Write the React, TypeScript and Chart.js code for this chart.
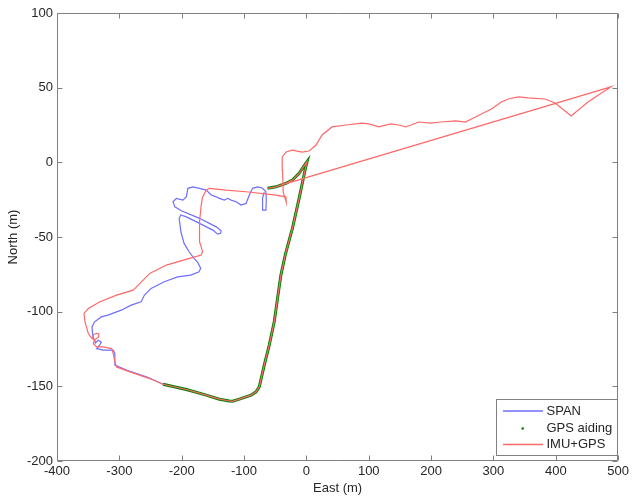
import React, { useEffect, useRef } from "react";
import { Chart, registerables } from "chart.js";

Chart.register(...registerables);

const xTicks = [-400, -300, -200, -100, 0, 100, 200, 300, 400, 500];
const yTicks = [-200, -150, -100, -50, 0, 50, 100];
const xTitle = "East (m)";
const yTitle = "North (m)";
const legendLabels = ["SPAN", "GPS aiding", "IMU+GPS"];

// GPS aiding (green dots)
const gpsEast = [
  -62.3, -48.9, -32.9, -22.4, -11.7, -1, 1.1, -1, -11.7, -22.4, -27.6, -34, -40.9, -46.3, -51.6, -59.6,
  -67.6, -75.6, -80.8, -88.8, -107.5, -118.2, -123.5, -139.5, -160.7, -192.6, -230,
];
const gpsNorth = [
  -17.4, -16.4, -14.1, -11.9, -7.4, -0.7, 0.5, -3, -24.1, -44.2, -52.1, -62.1, -75.5, -91.1, -106.8, -122.4,
  -135.8, -150.4, -153.7, -155.9, -158.6, -160, -159.8, -158.6, -155.9, -152.1, -148.6,
];

// SPAN reference (blue)
const spanEast = [
  -62.3, -48.9, -32.9, -22.4, -11.7, -1, 1.1, -1, -11.7, -22.4, -27.6, -34, -40.9, -46.3, -51.6, -59.6,
  -67.6, -75.6, -80.8, -88.8, -107.5, -118.2, -123.5, -139.5, -160.7, -192.6, -230,
  -255.6, -287.6, -307.2, -307.2, -309.9, -325.9, -336.4, -331.7, -329, -333.8, -338.6, -339.7, -342.3,
  -343.9, -339.7, -329, -318.3, -297, -281.1, -265.1, -259.8, -249.1, -228, -206.6, -185.4, -172.2,
  -169.5, -174.8, -180.2, -188.2, -196.2, -201.3, -204.1, -201.3, -192.6, -171.4, -150.2, -142.2, -137.5,
  -136.8, -144.7, -171.4, -200.6, -211, -214, -208.6, -198.1, -192.6, -190.1, -182.1, -171.4, -160.7,
  -152.7, -144.7, -139.5, -131.5, -126.2, -120.8, -112.8, -104.8, -96.8, -91.5, -86.3, -78.3, -70.8,
  -64.9, -64.4, -64.9, -70.3, -70.3, -67.6,
];
const spanNorth = [
  -17.4, -16.4, -14.1, -11.9, -7.4, -0.7, 0.5, -3, -24.1, -44.2, -52.1, -62.1, -75.5, -91.1, -106.8, -122.4,
  -135.8, -150.4, -153.7, -155.9, -158.6, -160, -159.8, -158.6, -155.9, -152.1, -148.6,
  -143.8, -139.2, -135.8, -128, -125.8, -125.8, -124.7, -122.5, -120.4, -119.1, -121.1, -119.1, -116.9,
  -110.2, -106.8, -103.5, -102.3, -99, -95.6, -93.4, -88.9, -84.4, -80, -76.7, -75.5, -73.3,
  -71, -66.6, -64.3, -59.9, -54.3, -46.5, -37.5, -35.3, -36.5, -40.9, -45.4, -48.1, -47.5,
  -45.8, -43.2, -37.5, -32.4, -29.8, -26.4, -24.1, -25.3, -23.1, -17.4, -16.4, -17.4, -18.6,
  -21.9, -23.1, -24.1, -25.3, -24.1, -25.3, -26.4, -28.6, -27.5, -21.9, -17.4, -16.4, -17.2,
  -19.7, -25.3, -32, -32, -23.9, -19.9,
];

// IMU+GPS solution (red)
const imuEast = [
  -62.3, -48.9, -32.9, -22.4, -11.7, -1, 1.1, -1, -11.7, -22.4, -27.6, -34, -40.9, -46.3, -51.6, -59.6,
  -67.6, -75.6, -80.8, -88.8, -107.5, -118.2, -123.5, -139.5, -160.7, -192.6, -230,
  -251.2, -283.2, -304.5, -307.2, -309.9, -312.4, -325.9, -336.4, -341.8, -340, -333, -333, -337, -341.5,
  -342.5, -340, -345, -349.8, -355.1, -356.7, -349.8, -331.1, -304.5, -277.9, -272.5, -251.3, -224.6,
  -187.4, -168.7, -166.6, -168.7, -171.4, -171.4, -168.7, -166.6, -160.7, -155.4, -128.8, -96.8, -48.9,
  -32.9, -32.4, -37.2, -38.3, -38.8, -32.4, -22.8, -6.9, 4.3, 15.5, 25.1, 41.1, 63.4, 89, 100.2, 116.1,
  135.3, 148.1, 159.3, 172.1, 180, 199.2, 215.2, 239.1, 255.1, 264.7, 280.7, 296.7, 312.6, 323.8, 339.8,
  355.8, 382.9, 398.9, 424.5, 451.6, 475.6, 488.4, -35.3,
];
const imuNorth = [
  -17.4, -16.4, -14.1, -11.9, -7.4, -0.7, 0.5, -3, -24.1, -44.2, -52.1, -62.1, -75.5, -91.1, -106.8, -122.4,
  -135.8, -150.4, -153.7, -155.9, -158.6, -160, -159.8, -158.6, -155.9, -152.1, -148.6,
  -144.8, -140.3, -137, -133.6, -128, -124.7, -123.6, -123.6, -121.3, -119, -117, -115, -114.5, -115.5,
  -117.5, -119, -117.5, -114.6, -106.8, -101.2, -97.9, -93.4, -88.9, -85.6, -83.4, -74.4, -68.8,
  -64.3, -62.1, -59.9, -56.6, -53.2, -39.8, -28.6, -23.3, -18.6, -17.4, -18.6, -19.7, -21.9,
  -23.1, -26.6, -19.9, -5.2, 3.6, 6.9, 8.2, 6.9, 7.6, 11.6, 18.3, 23.7, 25, 26.3, 25.7, 23.7,
  25.7, 25, 23.7, 25.7, 27, 26.3, 27, 27.7, 27, 29, 32.4, 35.7, 40.4, 42.4, 43.8,
  43.1, 42.4, 39.7, 31, 40.4, 47.1, 50.5, -14.6,
];

const FONT = "'Liberation Sans', Arial, Helvetica, sans-serif";
const TEXT = "#262626";
const AXIS = "#808080";
const BLUE = "rgb(110,110,255)";
const GREEN = "rgb(0,128,0)";
const RED = "rgb(255,105,105)";

const pts = (xs: number[], ys: number[]) => xs.map((x, i) => ({ x, y: ys[i] }));

const framePlugin = {
  id: "matlabFrame",
  afterDraw(chart: any) {
    const { ctx, chartArea: a, scales } = chart;
    ctx.save();
    ctx.strokeStyle = AXIS;
    ctx.lineWidth = 1;
    const L = Math.round(a.left) + 0.5;
    const R = Math.round(a.right) - 0.5;
    const T = Math.round(a.top) + 0.5;
    const B = Math.round(a.bottom) - 0.5;
    ctx.beginPath();
    ctx.rect(L, T, R - L, B - T);
    ctx.stroke();
    ctx.beginPath();
    xTicks.forEach((v) => {
      const px = Math.round(scales.x.getPixelForValue(v)) + 0.5;
      ctx.moveTo(px, B);
      ctx.lineTo(px, B - 5);
      ctx.moveTo(px, T);
      ctx.lineTo(px, T + 5);
    });
    yTicks.forEach((v) => {
      const py = Math.round(scales.y.getPixelForValue(v)) + 0.5;
      ctx.moveTo(L, py);
      ctx.lineTo(L + 5, py);
      ctx.moveTo(R, py);
      ctx.lineTo(R - 5, py);
    });
    ctx.stroke();

    // legend box
    const bx = 496.5, by = 399.5, bw = 121, bh = 56;
    ctx.fillStyle = "#ffffff";
    ctx.fillRect(bx, by, bw, bh);
    ctx.strokeStyle = AXIS;
    ctx.strokeRect(bx, by, bw, bh);
    const rows = [411, 428.5, 444.5];
    const colors = [BLUE, GREEN, RED];
    rows.forEach((ry, i) => {
      if (i === 1) {
        ctx.fillStyle = GREEN;
        ctx.beginPath();
        ctx.arc(522.7, ry, 1.3, 0, Math.PI * 2);
        ctx.fill();
      } else {
        ctx.strokeStyle = colors[i];
        ctx.lineWidth = 1.3;
        ctx.beginPath();
        ctx.moveTo(503, ry);
        ctx.lineTo(543, ry);
        ctx.stroke();
      }
      ctx.fillStyle = TEXT;
      ctx.font = `13px ${FONT}`;
      ctx.textAlign = "left";
      ctx.textBaseline = "middle";
      ctx.fillText(legendLabels[i], 546.5, ry);
    });
    ctx.restore();
  },
};

export default function App() {
  const ref = useRef<HTMLCanvasElement | null>(null);
  useEffect(() => {
    if (!ref.current) return;
    const font = { family: FONT, size: 13 };
    const chart = new Chart(ref.current, {
      type: "scatter",
      data: {
        datasets: [
          {
            label: legendLabels[2],
            data: pts(imuEast, imuNorth),
            showLine: true,
            borderColor: RED,
            backgroundColor: RED,
            borderWidth: 1.2,
            pointRadius: 0,
            tension: 0,
            order: 0,
          },
          {
            label: legendLabels[1],
            data: pts(gpsEast, gpsNorth),
            showLine: true,
            borderColor: GREEN,
            backgroundColor: GREEN,
            borderWidth: 3,
            pointRadius: 0,
            tension: 0,
            order: 1,
          },
          {
            label: legendLabels[0],
            data: pts(spanEast, spanNorth),
            showLine: true,
            borderColor: BLUE,
            backgroundColor: BLUE,
            borderWidth: 1.2,
            pointRadius: 0,
            tension: 0,
            order: 2,
          },
        ],
      },
      options: {
        animation: false,
        responsive: false,
        layout: { padding: { left: 0, top: 13, right: 11, bottom: 0 }, autoPadding: false },
        plugins: { legend: { display: false }, tooltip: { enabled: false } },
        scales: {
          x: {
            type: "linear",
            min: -400,
            max: 500,
            grid: { display: false, drawTicks: false },
            border: { display: false },
            afterBuildTicks: (s: any) => {
              s.ticks = xTicks.map((v) => ({ value: v }));
            },
            afterFit: (s: any) => {
              s.height = 38;
            },
            ticks: { font, color: TEXT, padding: 3, maxRotation: 0, autoSkip: false, callback: (v: any) => String(v) },
            title: { display: true, text: xTitle, font, color: TEXT, padding: { top: 0, bottom: 3 } },
          },
          y: {
            type: "linear",
            min: -200,
            max: 100,
            grid: { display: false, drawTicks: false },
            border: { display: false },
            afterBuildTicks: (s: any) => {
              s.ticks = yTicks.map((v) => ({ value: v }));
            },
            afterFit: (s: any) => {
              s.width = 57;
            },
            ticks: { font, color: TEXT, padding: 4, autoSkip: false, callback: (v: any) => String(v) },
            title: { display: true, text: yTitle, font, color: TEXT, padding: { top: 6, bottom: 0 } },
          },
        },
      },
      plugins: [framePlugin],
    } as any);
    return () => chart.destroy();
  }, []);
  return (
    <div style={{ position: "fixed", left: 0, top: 0, width: 632, height: 499, background: "#fff" }}>
      <canvas ref={ref} width={632} height={499} style={{ display: "block" }} />
    </div>
  );
}
